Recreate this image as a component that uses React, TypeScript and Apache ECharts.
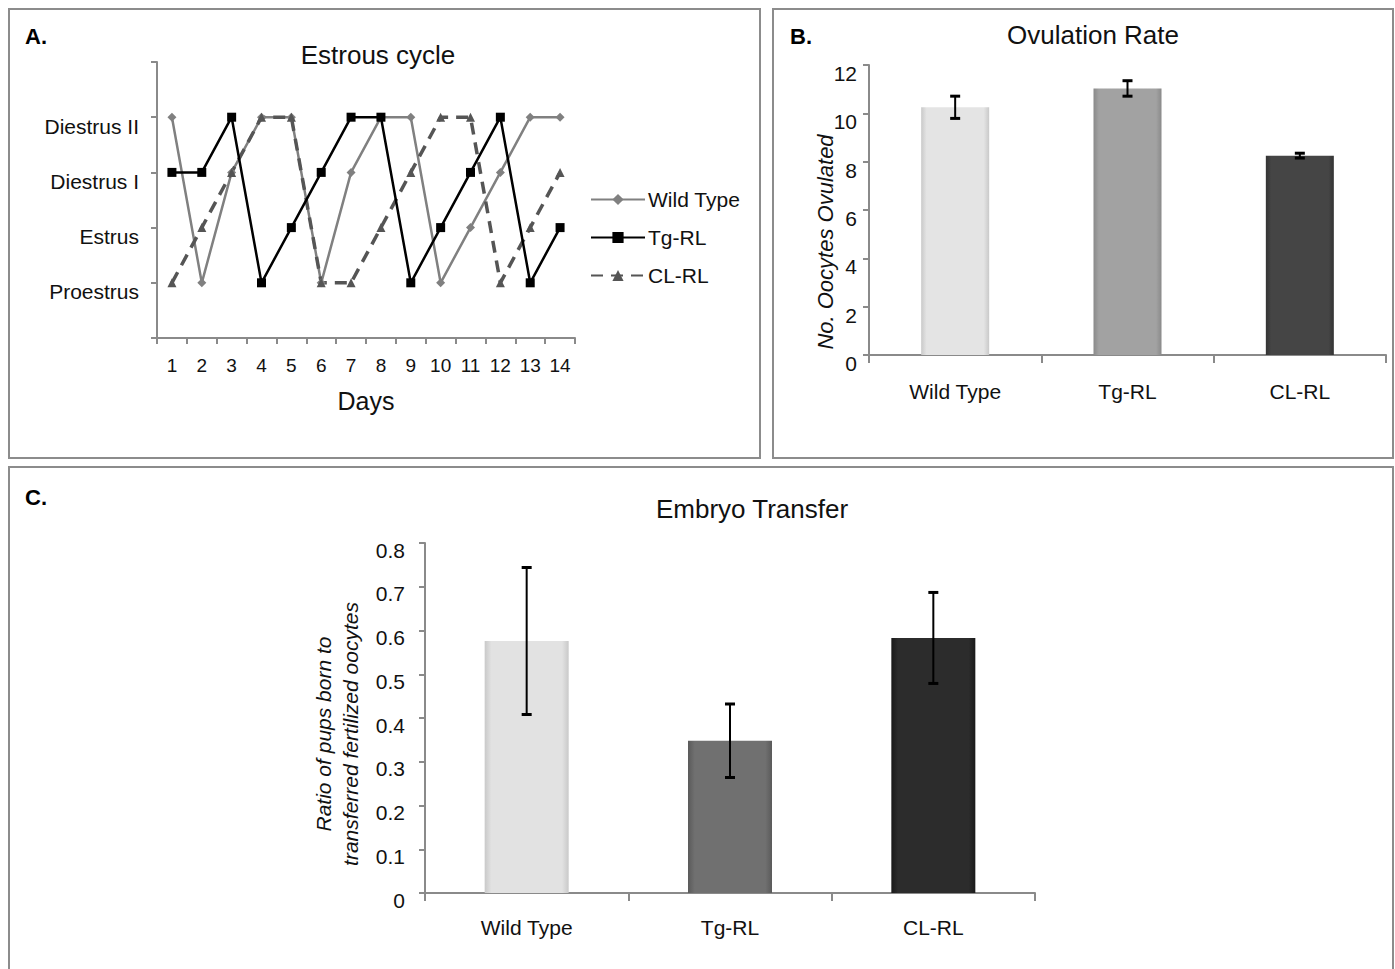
import React, { useEffect, useRef } from "react";
import * as echarts from "echarts";

const days = ["1", "2", "3", "4", "5", "6", "7", "8", "9", "10", "11", "12", "13", "14"];
const stageLabels = ["", "Proestrus", "Estrus", "Diestrus I", "Diestrus II", ""];
const wildType = [4, 1, 3, 4, 4, 1, 3, 4, 4, 1, 2, 3, 4, 4];
const tgRL = [3, 3, 4, 1, 2, 3, 4, 4, 1, 2, 3, 4, 1, 2];
const clRL = [1, 2, 3, 4, 4, 1, 1, 2, 3, 4, 4, 1, 2, 3];

const groups = ["Wild Type", "Tg-RL", "CL-RL"];
const ovulationMean = [10.25, 11.03, 8.25];
const ovulationErr = [0.46, 0.32, 0.1];
const embryoMean = [0.576, 0.348, 0.583];
const embryoErr = [0.168, 0.084, 0.104];

const ovulationColors = [
  ["#c9c9c9", "#e4e4e4"],
  ["#8a8a8a", "#a2a2a2"],
  ["#333333", "#454545"],
];
const embryoColors = [
  ["#c9c9c9", "#e2e2e2"],
  ["#5a5a5a", "#707070"],
  ["#1a1a1a", "#2c2c2c"],
];

const FONT = "Liberation Sans";
const AXIS = "#8a8a8a";

function grad(c: string[]) {
  return new echarts.graphic.LinearGradient(0, 0, 1, 0, [
    { offset: 0, color: c[0] },
    { offset: 0.08, color: c[1] },
    { offset: 0.92, color: c[1] },
    { offset: 1, color: c[0] },
  ]);
}

function errorRender(cap: number) {
  return (params: any, api: any) => {
    const x = api.value(0);
    const lo = api.coord([x, api.value(1)]);
    const hi = api.coord([x, api.value(2)]);
    return {
      type: "group",
      children: [
        { type: "line", shape: { x1: lo[0], y1: lo[1], x2: hi[0], y2: hi[1] }, style: { stroke: "#000", lineWidth: 2 } },
        { type: "line", shape: { x1: lo[0] - cap, y1: lo[1], x2: lo[0] + cap, y2: lo[1] }, style: { stroke: "#000", lineWidth: 3 } },
        { type: "line", shape: { x1: hi[0] - cap, y1: hi[1], x2: hi[0] + cap, y2: hi[1] }, style: { stroke: "#000", lineWidth: 3 } },
      ],
    };
  };
}

export default function App() {
  const ref = useRef<HTMLDivElement>(null);
  useEffect(() => {
    if (!ref.current) return;
    const chart = echarts.init(ref.current, null, { renderer: "svg" });
    const axisLine = { show: true, lineStyle: { color: AXIS, width: 2 } };
    const axisTick = { show: true, length: 6, lineStyle: { color: AXIS, width: 2 } };
    const txt = { fontFamily: FONT, color: "#111" };

    const option: any = {
      animation: false,
      backgroundColor: "#fff",
      textStyle: { fontFamily: FONT },
      graphic: [
        { type: "rect", shape: { x: 9, y: 9, width: 751, height: 449 }, style: { fill: "none", stroke: "#8c8c8c", lineWidth: 2 } },
        { type: "rect", shape: { x: 773, y: 9, width: 620, height: 449 }, style: { fill: "none", stroke: "#8c8c8c", lineWidth: 2 } },
        { type: "rect", shape: { x: 9, y: 467, width: 1384, height: 520 }, style: { fill: "none", stroke: "#8c8c8c", lineWidth: 2 } },
        { type: "text", x: 25, y: 36, style: { text: "A.", font: `bold 22px ${FONT}`, fill: "#000", textVerticalAlign: "middle" } },
        { type: "text", x: 790, y: 36, style: { text: "B.", font: `bold 22px ${FONT}`, fill: "#000", textVerticalAlign: "middle" } },
        { type: "text", x: 25, y: 497, style: { text: "C.", font: `bold 22px ${FONT}`, fill: "#000", textVerticalAlign: "middle" } },
        { type: "text", x: 378, y: 55, style: { text: "Estrous cycle", font: `26px ${FONT}`, fill: "#111", textAlign: "center", textVerticalAlign: "middle" } },
        { type: "text", x: 1093, y: 35, style: { text: "Ovulation Rate", font: `26px ${FONT}`, fill: "#111", textAlign: "center", textVerticalAlign: "middle" } },
        { type: "text", x: 752, y: 509, style: { text: "Embryo Transfer", font: `26px ${FONT}`, fill: "#111", textAlign: "center", textVerticalAlign: "middle" } },
        {
          type: "text",
          x: 825,
          y: 242,
          rotation: Math.PI / 2,
          style: { text: "No. Oocytes Ovulated", font: `italic 22px ${FONT}`, fill: "#111", textAlign: "center", textVerticalAlign: "middle" },
        },
        {
          type: "text",
          x: 337,
          y: 734,
          rotation: Math.PI / 2,
          style: {
            text: "Ratio of pups born to\ntransferred fertilized oocytes",
            font: `italic 21px ${FONT}`,
            lineHeight: 27,
            fill: "#111",
            textAlign: "center",
            textVerticalAlign: "middle",
          },
        },
      ],
      legend: {
        data: ["Wild Type", "Tg-RL", "CL-RL"],
        orient: "vertical",
        left: 585,
        top: 184,
        itemWidth: 54,
        itemHeight: 14,
        itemGap: 17,
        textStyle: { ...txt, fontSize: 21, padding: [0, 0, 0, -2] },
      },
      grid: [
        { left: 157, top: 62, width: 418, height: 276 },
        { left: 869, top: 65, width: 517, height: 290 },
        { left: 425, top: 543, width: 610, height: 350 },
      ],
      xAxis: [
        {
          gridIndex: 0,
          type: "category",
          data: days,
          boundaryGap: true,
          axisLine,
          axisTick,
          axisLabel: { ...txt, fontSize: 19, margin: 18, interval: 0 },
          name: "Days",
          nameLocation: "middle",
          nameGap: 50,
          nameTextStyle: { ...txt, fontSize: 25 },
        },
        {
          gridIndex: 1,
          type: "category",
          data: groups,
          axisLine,
          axisTick: { ...axisTick, length: 8 },
          axisLabel: { ...txt, fontSize: 21, margin: 26 },
        },
        {
          gridIndex: 2,
          type: "category",
          data: groups,
          axisLine,
          axisTick: { ...axisTick, length: 8 },
          axisLabel: { ...txt, fontSize: 21, margin: 24 },
        },
      ],
      yAxis: [
        {
          gridIndex: 0,
          type: "value",
          min: 0,
          max: 5,
          interval: 1,
          splitLine: { show: false },
          axisLine,
          axisTick,
          axisLabel: {
            ...txt,
            fontSize: 21,
            margin: 18,
            verticalAlign: "top",
            lineHeight: 18,
            formatter: (v: number) => stageLabels[v] || "",
          },
        },
        {
          gridIndex: 1,
          type: "value",
          min: 0,
          max: 12,
          interval: 2,
          splitLine: { show: false },
          axisLine,
          axisTick,
          axisLabel: { ...txt, fontSize: 21, margin: 12, verticalAlign: "top", lineHeight: 17 },
        },
        {
          gridIndex: 2,
          type: "value",
          min: 0,
          max: 0.8,
          interval: 0.1,
          splitLine: { show: false },
          axisLine,
          axisTick,
          axisLabel: { ...txt, fontSize: 21, margin: 20, verticalAlign: "top", lineHeight: 14 },
        },
      ],
      series: [
        {
          name: "Wild Type",
          type: "line",
          xAxisIndex: 0,
          yAxisIndex: 0,
          data: wildType,
          symbol: "diamond",
          symbolSize: 9,
          lineStyle: { color: "#808080", width: 2.5 },
          itemStyle: { color: "#808080" },
          z: 2,
        },
        {
          name: "Tg-RL",
          type: "line",
          xAxisIndex: 0,
          yAxisIndex: 0,
          data: tgRL,
          symbol: "rect",
          symbolSize: 9,
          lineStyle: { color: "#000", width: 2.5 },
          itemStyle: { color: "#000" },
          z: 3,
        },
        {
          name: "CL-RL",
          type: "line",
          xAxisIndex: 0,
          yAxisIndex: 0,
          data: clRL,
          symbol: "triangle",
          symbolSize: 9,
          lineStyle: { color: "#555", width: 3.5, type: [12, 8] },
          itemStyle: { color: "#555" },
          z: 2,
        },
        {
          type: "bar",
          xAxisIndex: 1,
          yAxisIndex: 1,
          barWidth: 68,
          data: ovulationMean.map((v, i) => ({ value: v, itemStyle: { color: grad(ovulationColors[i]) } })),
        },
        {
          type: "custom",
          xAxisIndex: 1,
          yAxisIndex: 1,
          renderItem: errorRender(5),
          data: ovulationMean.map((v, i) => [i, v - ovulationErr[i], v + ovulationErr[i]]),
          z: 5,
        },
        {
          type: "bar",
          xAxisIndex: 2,
          yAxisIndex: 2,
          barWidth: 84,
          data: embryoMean.map((v, i) => ({ value: v, itemStyle: { color: grad(embryoColors[i]) } })),
        },
        {
          type: "custom",
          xAxisIndex: 2,
          yAxisIndex: 2,
          renderItem: errorRender(5),
          data: embryoMean.map((v, i) => [i, v - embryoErr[i], v + embryoErr[i]]),
          z: 5,
        },
      ],
    };
    chart.setOption(option);
    return () => chart.dispose();
  }, []);
  return (
    <div
      ref={ref}
      style={{ position: "fixed", left: 0, top: 0, width: 1395, height: 969, background: "#fff" }}
    />
  );
}
